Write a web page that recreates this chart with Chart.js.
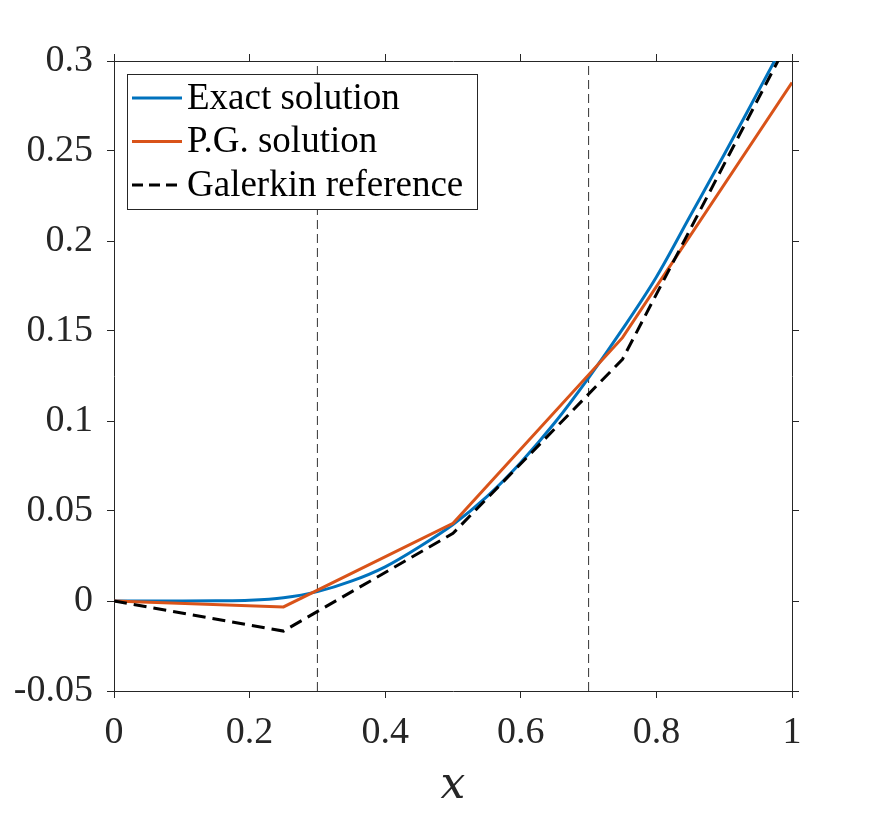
<!DOCTYPE html>
<html>
<head>
<meta charset="utf-8">
<script src="https://cdn.jsdelivr.net/npm/chart.js@4"></script>
<style>
  body { margin: 0; background: #fff; }
  canvas { display: block; }
</style>
</head>
<body>
<canvas id="solChart" width="875" height="813"></canvas>
<script>
// exact solution, sampled every 0.05
const exactX = [0, 0.05, 0.1, 0.15, 0.2, 0.25, 0.3, 0.35, 0.4, 0.45, 0.5,
                0.55, 0.6, 0.65, 0.7, 0.75, 0.8, 0.85, 0.9, 0.95, 1];
const exactY = [0, 0, 0, 0.0001, 0.0004, 0.0018, 0.0052, 0.011, 0.019, 0.030, 0.0425,
                0.058, 0.077, 0.099, 0.124, 0.151, 0.180, 0.214, 0.248, 0.283, 0.318];

// nodal values on the mesh
const nodeX = [0, 0.25, 0.5, 0.75, 1];
const pgY = [0, -0.0033, 0.0432, 0.1463, 0.288];
const galerkinY = [0, -0.0167, 0.0376, 0.1343, 0.315];

// interfaces
const interfaceX = [0.3, 0.7];

const xTicks = [0, 0.2, 0.4, 0.6, 0.8, 1];
const xTickLabels = ['0', '0.2', '0.4', '0.6', '0.8', '1'];
const yTicks = [-0.05, 0, 0.05, 0.1, 0.15, 0.2, 0.25, 0.3];
const yTickLabels = ['-0.05', '0', '0.05', '0.1', '0.15', '0.2', '0.25', '0.3'];

const xMin = 0, xMax = 1, yMin = -0.05, yMax = 0.3;

const ink = '#262626';
const serif = "'Liberation Serif', 'Times New Roman', serif";

function pts(xs, ys) {
    return xs.map((x, i) => ({ x: x, y: ys[i] }));
}

const datasets = [
    {
        label: 'Exact solution',
        data: pts(exactX, exactY),
        borderColor: '#0072BD',
        borderWidth: 3,
        cubicInterpolationMode: 'monotone',
        order: 2
    },
    {
        label: 'P.G. solution',
        data: pts(nodeX, pgY),
        borderColor: '#D95319',
        borderWidth: 3,
        order: 1
    },
    {
        label: 'Galerkin reference',
        data: pts(nodeX, galerkinY),
        borderColor: '#000000',
        borderWidth: 3,
        borderDash: [13, 7],
        order: 0
    }
];
interfaceX.forEach(xv => {
    datasets.push({
        label: '',
        data: [{ x: xv, y: yMin }, { x: xv, y: yMax }],
        borderColor: '#333333',
        borderWidth: 1,
        borderDash: [9, 5],
        order: 3,
        isGuide: true
    });
});

// legend box drawn inside the axes, like the original figure
const boxLegend = {
    id: 'boxLegend',
    afterDraw(chart) {
        const ctx = chart.ctx;
        const bx = 127.5, by = 74.5, bw = 350, bh = 135;
        ctx.save();
        ctx.fillStyle = '#fff';
        ctx.fillRect(bx, by, bw, bh);
        ctx.strokeStyle = ink;
        ctx.lineWidth = 1;
        ctx.strokeRect(bx, by, bw, bh);
        ctx.font = '37px ' + serif;
        ctx.textBaseline = 'middle';
        ctx.fillStyle = '#000';
        chart.data.datasets.filter(d => !d.isGuide).forEach((d, i) => {
            const yy = 98 + i * 43.5;
            ctx.strokeStyle = d.borderColor;
            ctx.lineWidth = d.borderWidth;
            ctx.setLineDash(d.borderDash ? [11, 6] : []);
            ctx.beginPath();
            ctx.moveTo(132, yy);
            ctx.lineTo(182, yy);
            ctx.stroke();
            ctx.setLineDash([]);
            ctx.fillText(d.label, 187, yy + 1);
        });
        ctx.restore();
    }
};

function fixedTicks(values) {
    return scale => { scale.ticks = values.map(v => ({ value: v })); };
}

const tickGrid = { drawOnChartArea: false, drawTicks: true, tickLength: 7, color: ink, lineWidth: 1 };
const axisBorder = { display: true, color: ink, width: 1 };

new Chart(document.getElementById('solChart').getContext('2d'), {
    type: 'line',
    data: { datasets: datasets },
    plugins: [boxLegend],
    options: {
        responsive: false,
        animation: false,
        layout: { padding: 0 },
        elements: { point: { radius: 0 }, line: { tension: 0, fill: false } },
        plugins: { legend: { display: false }, tooltip: { enabled: false } },
        scales: {
            x: {
                type: 'linear', position: 'bottom', min: xMin, max: xMax,
                afterBuildTicks: fixedTicks(xTicks),
                afterFit: s => { s.height = 122; },
                grid: tickGrid, border: axisBorder,
                ticks: {
                    color: ink, padding: 12, maxRotation: 0,
                    font: { family: serif, size: 38 },
                    callback: (v, i) => xTickLabels[i]
                },
                title: {
                    display: true, text: 'x', color: ink,
                    font: { family: "'DejaVu Serif', serif", size: 44, style: 'italic' },
                    padding: { top: 0, bottom: 0 }
                }
            },
            x2: {
                type: 'linear', position: 'top', min: xMin, max: xMax,
                afterBuildTicks: fixedTicks(xTicks),
                afterFit: s => { s.height = 61; },
                grid: tickGrid, border: axisBorder,
                ticks: { display: false }
            },
            y: {
                type: 'linear', position: 'left', min: yMin, max: yMax,
                afterBuildTicks: fixedTicks(yTicks),
                afterFit: s => { s.width = 114; },
                grid: tickGrid, border: axisBorder,
                ticks: {
                    color: ink, padding: 14,
                    font: { family: serif, size: 38 },
                    callback: (v, i) => yTickLabels[i]
                }
            },
            y2: {
                type: 'linear', position: 'right', min: yMin, max: yMax,
                afterBuildTicks: fixedTicks(yTicks),
                afterFit: s => { s.width = 83; },
                grid: tickGrid, border: axisBorder,
                ticks: { display: false }
            }
        }
    }
});
</script>
</body>
</html>
